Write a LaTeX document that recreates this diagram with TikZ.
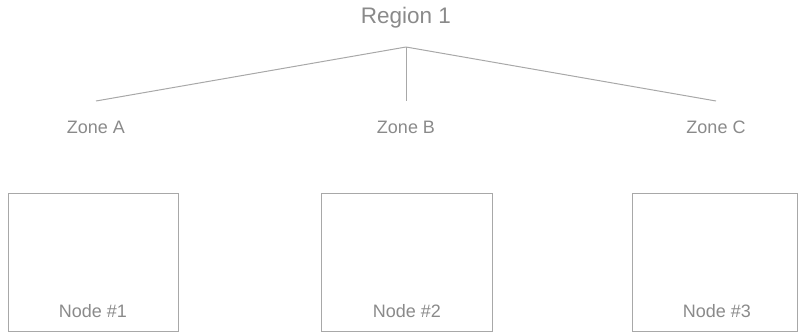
\documentclass[tikz,border=0pt]{standalone}
\usepackage{fontspec}
\setmainfont{Liberation Sans}
\definecolor{txt}{HTML}{8A8A8A}
\definecolor{ln}{HTML}{A8A8A8}
\begin{document}
\begin{tikzpicture}[x=1pt,y=-1pt,
  lbl/.style={text=txt,inner sep=0pt,font=\fontsize{18}{20}\selectfont},
  title/.style={text=txt,inner sep=0pt,font=\fontsize{22.5}{25}\selectfont},
  box/.style={draw=ln,line width=1pt,inner sep=0pt},
  link/.style={draw=ln,line width=1pt}]
\useasboundingbox (0,0) rectangle (798,332);
% header
\node[title] (reg) at (406,18) {Region 1};
\coordinate (hub) at (406,47);
% zones
\node[lbl] (za) at (96,127) {Zone A};
\node[lbl] (zb) at (406,127) {Zone B};
\node[lbl] (zc) at (716,127) {Zone C};
\coordinate (ta) at (96,101);
\coordinate (tb) at (406,101);
\coordinate (tc) at (716,101);
\draw[link] (hub) -- (ta);
\draw[link] (hub) -- (tb);
\draw[link] (hub) -- (tc);
% nodes
\draw[box] (8.5,193.5) rectangle (178.5,331.5);
\draw[box] (321.5,193.5) rectangle (492.5,331.5);
\draw[box] (632.5,193.5) rectangle (797.5,331.5);
\node[lbl] (n1) at (93,311) {Node \#1};
\node[lbl] (n2) at (407,311) {Node \#2};
\node[lbl] (n3) at (717,311) {Node \#3};
\end{tikzpicture}
\end{document}
